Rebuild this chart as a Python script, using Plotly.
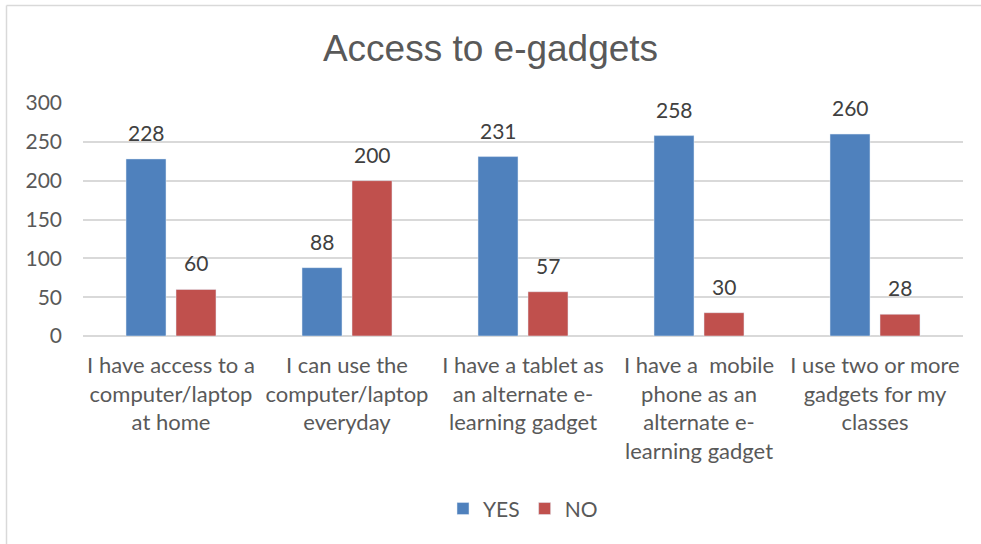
import plotly.graph_objects as go

categories = [
    "I have access to a<br>computer/laptop<br>at home",
    "I can use the<br>computer/laptop<br>everyday",
    "I have a tablet as<br>an alternate e-<br>learning gadget",
    "I have a  mobile<br>phone as an<br>alternate e-<br>learning gadget",
    "I use two or more<br>gadgets for my<br>classes",
]
yes_values = [228, 88, 231, 258, 260]
no_values = [60, 200, 57, 30, 28]
y_ticks = [0, 50, 100, 150, 200, 250, 300]

FONT = "Lato, Carlito, Calibri, sans-serif"
TXT = "#595959"

fig = go.Figure()
fig.add_trace(go.Bar(name="YES", x=categories, y=yes_values, marker=dict(color="#4F81BD")))
fig.add_trace(go.Bar(name="NO", x=categories, y=no_values, marker=dict(color="#C0504D")))

annotations = []
for series, shift in ((yes_values, -25), (no_values, 25)):
    for cat, val in zip(categories, series):
        annotations.append(dict(x=cat, y=val, xref="x", yref="y", text=str(val), showarrow=False,
                                xshift=shift, yshift=12, yanchor="bottom",
                                font=dict(size=21, color="#404040", family=FONT)))

fig.update_layout(
    width=981, height=544,
    margin=dict(l=83, r=18, t=103, b=208),
    paper_bgcolor="white", plot_bgcolor="white",
    barmode="group", bargap=0.432, bargroupgap=0.2,
    font=dict(family=FONT, color=TXT),
    title=dict(text="Access to e-gadgets", x=0.5, xanchor="center", y=0.912, yanchor="middle",
               font=dict(family="Liberation Sans Narrow, Liberation Sans, Arial, sans-serif", size=37, color=TXT)),
    legend=dict(orientation="h", x=0.5, xanchor="center", y=-0.742, yanchor="middle",
                font=dict(size=21, color=TXT, family=FONT), itemwidth=30, traceorder="normal"),
    xaxis=dict(showgrid=False, showline=False, ticks="", ticklabelstandoff=14,
               tickfont=dict(size=22, color=TXT, family=FONT)),
    yaxis=dict(range=[0, 300], tickvals=y_ticks, showgrid=True, gridcolor="#D9D9D9", gridwidth=1.5,
               zeroline=True, zerolinecolor="#D9D9D9", zerolinewidth=1.5,
               ticks="", ticklabelstandoff=20, tickfont=dict(size=21, color=TXT, family=FONT)),
    annotations=annotations,
    shapes=[
        dict(type="line", xref="paper", yref="paper", x0=(6.5 - 83) / 880, x1=(990 - 83) / 880,
             y0=(336 - 5.5) / 233, y1=(336 - 5.5) / 233, line=dict(color="#D9D9D9", width=1.5)),
        dict(type="line", xref="paper", yref="paper", x0=(6.5 - 83) / 880, x1=(6.5 - 83) / 880,
             y0=(336 - 5.5) / 233, y1=(336 - 560) / 233, line=dict(color="#D9D9D9", width=1.5)),
    ],
)

fig.write_html("out.html")
